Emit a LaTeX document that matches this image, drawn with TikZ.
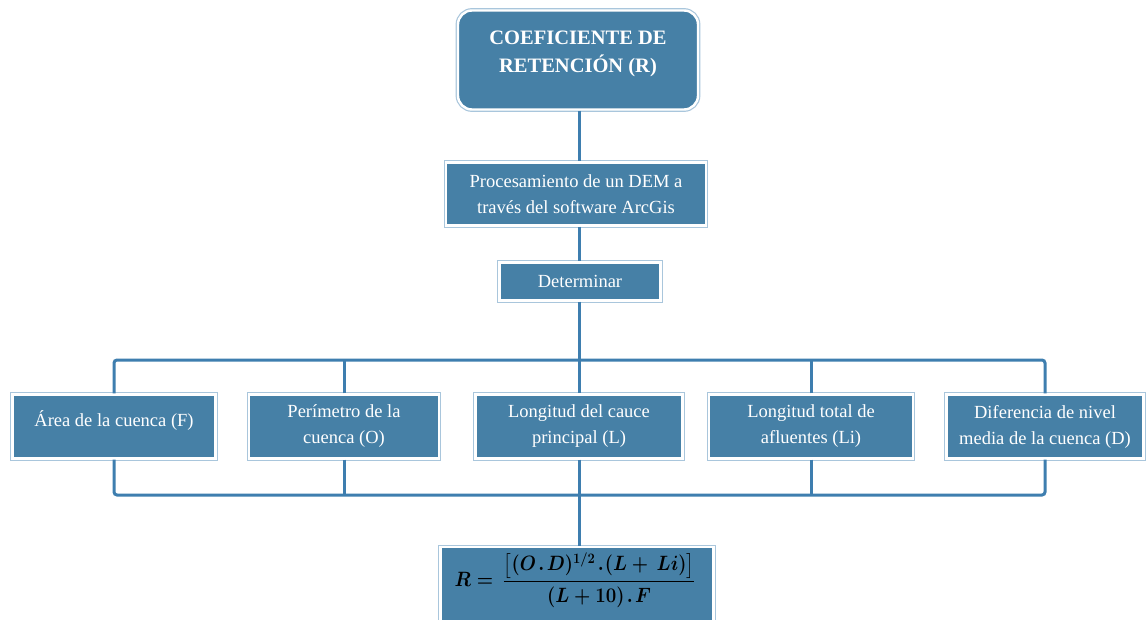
\documentclass[tikz,border=0pt]{standalone}
\usepackage{amsmath}
\usepackage{graphicx}
\usepackage{fontspec}
\setmainfont{Liberation Serif}
\definecolor{boxblue}{HTML}{4680A6}
\definecolor{framecol}{HTML}{A9C6DC}
\definecolor{linkblue}{HTML}{3E7EAF}
\newsavebox{\formbox}
\begin{document}
\sbox{\formbox}{\scalebox{0.9}[1]{\fontsize{20.5}{25}\selectfont\boldmath
  $R=\,\dfrac{\bigl[(O\mkern2mu.\mkern2mu D)^{1/2}\mkern2mu.\mkern1mu(L+\,Li)\bigr]}{(L+10)\mkern2mu.\mkern2mu F}$}}%
\begin{tikzpicture}[x=1pt,y=-1pt,
  box/.style={fill=boxblue, draw=white, line width=2.4pt,
    preaction={draw=framecol, line width=4.8pt},
    inner sep=0pt, text=white, align=center,
    font=\fontsize{18.5}{26}\selectfont},
  boxtext/.style={text=white, align=center, inner sep=0pt},
  link/.style={draw=linkblue, line width=3pt, rounded corners=3pt}]
\fill[white] (0,0) rectangle (1148,620);
\useasboundingbox (0,0) rectangle (1148,620);

% central column
\node[box, rounded corners=14pt, minimum width=240pt, minimum height=99pt] (top) at (578,60) {};
\node[boxtext, font=\bfseries\fontsize{20.5}{28}\selectfont] (toptitle) at ([yshift=6pt]top.center)
  {COEFICIENTE DE\\RETENCIÓN (R)};
\node[box, minimum width=260pt, minimum height=63pt] (proc) at (576,194)
  {Procesamiento de un DEM a\\través del software ArcGis};
\node[box, minimum width=161pt, minimum height=38pt] (det) at (580,281.5) {Determinar};

% parameter row
\node[box, minimum width=203pt, minimum height=64pt] (pa) at (114,426.5) {};
\node[boxtext, font=\fontsize{18.5}{26}\selectfont] (patext) at ([yshift=6pt]pa.center) {Área de la cuenca (F)};
\node[box, minimum width=190pt, minimum height=64pt] (pb) at (344,426.5) {Perímetro de la\\cuenca (O)};
\node[box, minimum width=207pt, minimum height=64pt] (pc) at (579,426.5) {Longitud del cauce\\principal (L)};
\node[box, minimum width=204pt, minimum height=64pt] (pd) at (811,426.5) {Longitud total de\\afluentes (Li)};
\node[box, minimum width=197pt, minimum height=64pt] (pe) at (1045,426.5) {Diferencia de nivel\\media de la cuenca (D)};

% result
\node[box, minimum width=273pt, minimum height=78pt] (res) at (577,586) {};
\node[text=white, inner sep=0pt] (formula) at ([xshift=-2pt,yshift=6pt]res.center) {\usebox{\formbox}};

\coordinate (bus) at (579,360);
\coordinate (bus2) at (579,495);

% connectors
\draw[link] (top.south -| bus) -- (proc.north -| bus);
\draw[link] (proc.south -| bus) -- (det.north -| bus);
\draw[link] (det.south -| bus) -- (pc.north);
\draw[link] (pa.north) -- (pa.north |- bus) -- (pe.north |- bus) -- (pe.north);
\draw[link] (pb.north) -- (pb.north |- bus);
\draw[link] (pd.north) -- (pd.north |- bus);
\draw[link] (pa.south) -- (pa.south |- bus2) -- (pe.south |- bus2) -- (pe.south);
\draw[link] (pb.south) -- (pb.south |- bus2);
\draw[link] (pd.south) -- (pd.south |- bus2);
\draw[link] (pc.south) -- (res.north -| bus);
\end{tikzpicture}
\end{document}
